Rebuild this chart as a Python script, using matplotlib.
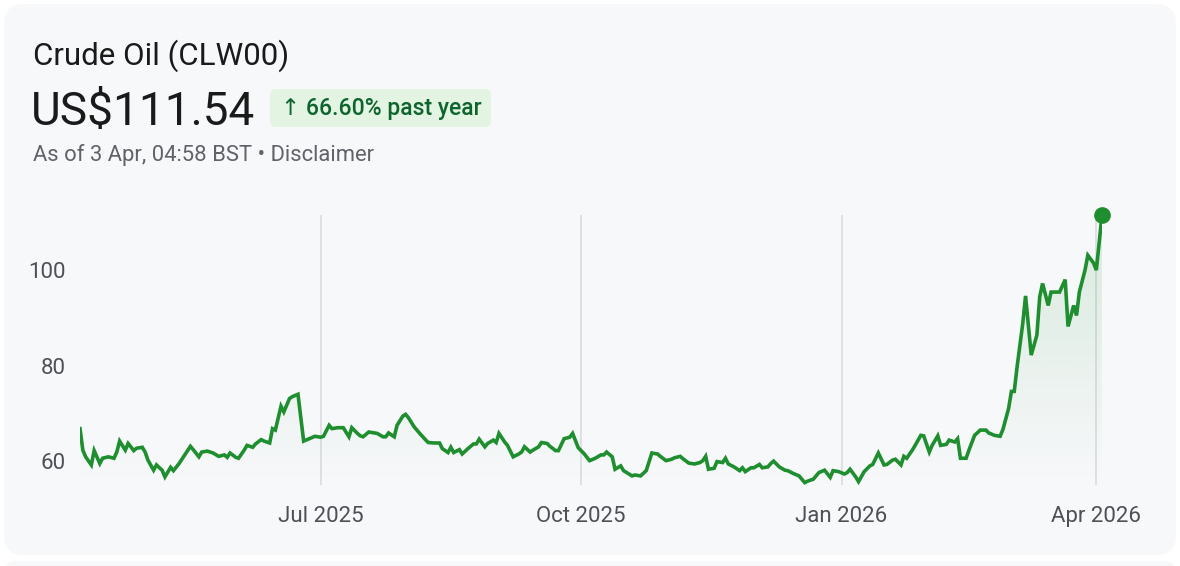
import numpy as np
import pandas as pd
import matplotlib.pyplot as plt
import matplotlib.dates as mdates
from matplotlib.patches import FancyBboxPatch, Polygon
from matplotlib.colors import to_rgb

plt.rcParams['font.family'] = ['Roboto', 'DejaVu Sans']

# ---- data ----
dates = [
    '2025-04-07', '2025-04-08', '2025-04-09', '2025-04-11', '2025-04-12', '2025-04-14', '2025-04-15',
    '2025-04-17', '2025-04-19', '2025-04-20', '2025-04-21', '2025-04-23', '2025-04-24', '2025-04-26',
    '2025-04-27', '2025-04-29', '2025-04-30', '2025-05-01', '2025-05-03', '2025-05-04', '2025-05-06',
    '2025-05-07', '2025-05-09', '2025-05-10', '2025-05-12', '2025-05-14', '2025-05-16', '2025-05-17',
    '2025-05-19', '2025-05-20', '2025-05-22', '2025-05-24', '2025-05-26', '2025-05-28', '2025-05-29',
    '2025-05-30', '2025-06-01', '2025-06-02', '2025-06-04', '2025-06-05', '2025-06-07', '2025-06-08',
    '2025-06-10', '2025-06-11', '2025-06-13', '2025-06-14', '2025-06-15', '2025-06-17', '2025-06-18',
    '2025-06-20', '2025-06-21', '2025-06-23', '2025-06-25', '2025-06-27', '2025-06-29', '2025-07-01',
    '2025-07-02', '2025-07-04', '2025-07-05', '2025-07-07', '2025-07-09', '2025-07-11', '2025-07-12',
    '2025-07-14', '2025-07-15', '2025-07-16', '2025-07-18', '2025-07-19', '2025-07-21', '2025-07-23',
    '2025-07-24', '2025-07-25', '2025-07-27', '2025-07-28', '2025-07-30', '2025-07-31', '2025-08-01',
    '2025-08-03', '2025-08-05', '2025-08-07', '2025-08-08', '2025-08-10', '2025-08-12', '2025-08-13',
    '2025-08-15', '2025-08-16', '2025-08-17', '2025-08-19', '2025-08-20', '2025-08-22', '2025-08-24',
    '2025-08-25', '2025-08-26', '2025-08-28', '2025-08-29', '2025-08-31', '2025-09-01', '2025-09-02',
    '2025-09-04', '2025-09-05', '2025-09-07', '2025-09-09', '2025-09-10', '2025-09-11', '2025-09-13',
    '2025-09-14', '2025-09-16', '2025-09-17', '2025-09-19', '2025-09-20', '2025-09-22', '2025-09-23',
    '2025-09-25', '2025-09-27', '2025-09-28', '2025-09-30', '2025-10-02', '2025-10-04', '2025-10-06',
    '2025-10-08', '2025-10-09', '2025-10-10', '2025-10-12', '2025-10-13', '2025-10-15', '2025-10-16',
    '2025-10-19', '2025-10-20', '2025-10-22', '2025-10-24', '2025-10-26', '2025-10-28', '2025-10-29',
    '2025-10-31', '2025-11-02', '2025-11-03', '2025-11-05', '2025-11-06', '2025-11-08', '2025-11-10',
    '2025-11-12', '2025-11-13', '2025-11-14', '2025-11-15', '2025-11-17', '2025-11-18', '2025-11-20',
    '2025-11-21', '2025-11-22', '2025-11-24', '2025-11-26', '2025-11-27', '2025-11-28', '2025-11-30',
    '2025-12-01', '2025-12-03', '2025-12-04', '2025-12-06', '2025-12-07', '2025-12-08', '2025-12-10',
    '2025-12-12', '2025-12-13', '2025-12-15', '2025-12-17', '2025-12-19', '2025-12-20', '2025-12-22',
    '2025-12-24', '2025-12-26', '2025-12-28', '2025-12-29', '2025-12-31', '2026-01-02', '2026-01-03',
    '2026-01-04', '2026-01-06', '2026-01-07', '2026-01-09', '2026-01-11', '2026-01-12', '2026-01-14',
    '2026-01-16', '2026-01-17', '2026-01-19', '2026-01-20', '2026-01-22', '2026-01-23', '2026-01-24',
    '2026-01-26', '2026-01-27', '2026-01-29', '2026-01-30', '2026-02-01', '2026-02-02', '2026-02-04',
    '2026-02-05', '2026-02-07', '2026-02-08', '2026-02-10', '2026-02-11', '2026-02-12', '2026-02-14',
    '2026-02-15', '2026-02-17', '2026-02-19', '2026-02-21', '2026-02-22', '2026-02-24', '2026-02-26',
    '2026-02-27', '2026-03-01', '2026-03-02', '2026-03-03', '2026-03-04', '2026-03-06', '2026-03-07',
    '2026-03-09', '2026-03-11', '2026-03-12', '2026-03-13', '2026-03-15', '2026-03-16', '2026-03-18',
    '2026-03-19', '2026-03-21', '2026-03-22', '2026-03-24', '2026-03-25', '2026-03-26', '2026-03-28',
    '2026-03-29', '2026-03-31', '2026-04-01', '2026-04-03',
]

prices = [
    66.8, 62.3, 60.9, 59.2, 62.2, 59.5, 60.6, 60.9, 60.6, 61.9, 64.2, 62.3, 63.7, 62.2,
    62.7, 62.9, 61.9, 60.2, 58.1, 59.2, 58.1, 56.7, 58.7, 58.0, 59.5, 61.3, 63.1, 62.4,
    60.9, 61.9, 62.1, 61.7, 61.0, 61.3, 60.8, 61.7, 60.8, 60.6, 62.3, 63.3, 62.9, 63.6,
    64.5, 64.2, 63.8, 66.8, 66.5, 71.5, 70.3, 73.1, 73.5, 74.0, 64.2, 64.7, 65.2, 65.0,
    65.2, 67.5, 66.8, 67.0, 67.0, 65.1, 67.0, 65.8, 65.3, 65.1, 66.1, 66.0, 65.8, 65.1,
    65.1, 65.9, 65.1, 67.5, 69.4, 69.8, 69.1, 67.2, 65.8, 64.5, 63.9, 63.8, 63.8, 62.6,
    61.8, 62.9, 61.8, 62.4, 61.5, 62.6, 63.6, 63.6, 64.6, 63.0, 63.7, 64.4, 63.9, 65.8,
    64.0, 63.3, 60.9, 61.5, 61.9, 63.0, 61.9, 62.3, 63.0, 63.9, 63.7, 63.1, 62.2, 62.2,
    64.7, 65.0, 65.8, 62.8, 61.6, 60.1, 60.6, 61.3, 61.3, 61.9, 60.9, 58.3, 59.0, 58.0,
    56.9, 57.1, 56.9, 58.0, 61.7, 61.5, 61.0, 60.1, 60.4, 60.7, 61.0, 60.5, 59.6, 59.4,
    59.7, 60.1, 61.0, 58.3, 58.5, 59.9, 59.7, 60.6, 59.4, 58.8, 58.0, 58.6, 57.8, 58.6,
    58.6, 59.3, 58.6, 58.8, 59.5, 60.0, 58.8, 58.1, 58.0, 57.4, 56.9, 55.5, 55.8, 56.2,
    57.6, 58.1, 56.6, 58.0, 57.8, 57.3, 57.6, 58.3, 56.7, 55.7, 57.8, 59.0, 59.3, 61.7,
    59.2, 59.3, 60.2, 60.4, 59.2, 61.0, 60.6, 62.3, 63.3, 65.4, 65.3, 61.9, 63.3, 65.3,
    63.3, 63.5, 64.4, 64.0, 64.7, 60.6, 60.6, 62.3, 65.4, 66.5, 66.5, 65.9, 65.4, 65.2,
    66.6, 71.0, 74.6, 74.6, 79.7, 88.8, 94.6, 82.2, 86.4, 94.4, 97.2, 92.6, 95.4, 95.4,
    95.4, 98.0, 88.2, 92.6, 90.5, 95.4, 100.0, 103.1, 101.5, 100.0, 111.54,
]

month_ticks = ['2025-07-01', '2025-10-01', '2026-01-01', '2026-04-01']
month_labels = ['Jul 2025', 'Oct 2025', 'Jan 2026', 'Apr 2026']
y_ticks = [60, 80, 100]

title = 'Crude Oil (CLW00)'
price_text = 'US$111.54'
change_text = '\u2191 66.60% past year'
sub_text = 'As of 3 Apr, 04:58 BST \u2022 Disclaimer'

GREEN = '#1e8e2e'
GRAY = '#4d5156'
CARD = '#f7f8fa'

W, H = 1180, 566
fig = plt.figure(figsize=(W / 100, H / 100), dpi=100, facecolor='white')

# background layer in pixel coordinates
bg = fig.add_axes([0, 0, 1, 1], zorder=0)
bg.set_xlim(0, W)
bg.set_ylim(H, 0)
bg.axis('off')
bg.add_patch(FancyBboxPatch((4, 4), 1172, 551, boxstyle='round,pad=0,rounding_size=20',
                            fc=CARD, ec='none'))
bg.add_patch(FancyBboxPatch((4, 561), 1172, 30, boxstyle='round,pad=0,rounding_size=12',
                            fc=CARD, ec='none'))
bg.add_patch(FancyBboxPatch((270, 89), 221, 38, boxstyle='round,pad=0,rounding_size=6',
                            fc='#e3f4e3', ec='none'))

bg.text(33, 65, title, fontsize=22.5, color='#1a1a1a', va='baseline', ha='left')
bg.text(31, 125, price_text, fontsize=33, color='#1a1a1a', va='baseline', ha='left')
bg.text(281, 114.5, change_text, fontsize=16.5, color='#0d652d', va='baseline', ha='left',
        fontweight='medium')
bg.text(33, 161, sub_text, fontsize=15.8, color='#5f6368', va='baseline', ha='left')

# chart
x = pd.to_datetime(dates)
xn = mdates.date2num(x)
ytop = prices[-1]
ybot = 55.0

ax = fig.add_axes([80 / W, (H - 485) / H, (1102 - 80) / W, 270 / H], zorder=1)
ax.set_facecolor('none')
ax.set_xlim(xn[0], xn[-1])
ax.set_ylim(ybot, ytop)

for t in month_ticks:
    ax.axvline(mdates.date2num(pd.Timestamp(t)), color='#dadce0', lw=1.2, zorder=1)

# gradient fill under the line
grad = np.linspace(1, 0, 256).reshape(-1, 1)
img = np.zeros((256, 1, 4))
img[..., :3] = to_rgb(GREEN)
img[..., 3] = 0.14 * grad
im = ax.imshow(img, extent=[xn[0], xn[-1], ybot, ytop], aspect='auto', origin='upper', zorder=2)
poly = Polygon(list(zip(xn, prices)) + [(xn[-1], ybot), (xn[0], ybot)], closed=True,
               fc='none', ec='none', transform=ax.transData)
ax.add_patch(poly)
im.set_clip_path(poly)

ax.plot(xn, prices, color=GREEN, lw=2.6, solid_joinstyle='miter', zorder=3)
ax.plot(xn[-1], prices[-1], 'o', color=GREEN, ms=11, zorder=4, clip_on=False)

ax.set_xticks([mdates.date2num(pd.Timestamp(t)) for t in month_ticks])
ax.set_xticklabels(month_labels)
ax.set_yticks(y_ticks)
ax.set_yticklabels([str(v) for v in y_ticks])
ax.tick_params(axis='both', length=0, labelsize=16, labelcolor=GRAY)
ax.tick_params(axis='x', pad=15)
ax.tick_params(axis='y', pad=10)
for s in ax.spines.values():
    s.set_visible(False)

fig.savefig('out.png', dpi=100, facecolor='white')
